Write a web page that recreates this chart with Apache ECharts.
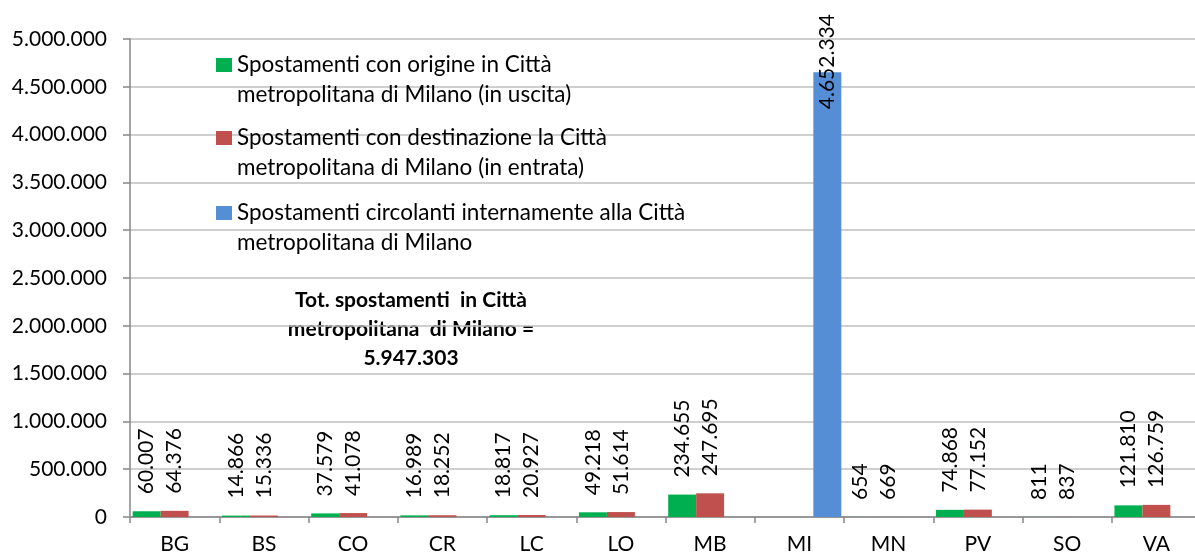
<!DOCTYPE html>
<html>
<head>
<meta charset="utf-8">
<script src="https://cdn.jsdelivr.net/npm/echarts@6/dist/echarts.min.js"></script>
<style>
  html, body { margin: 0; padding: 0; background: #ffffff; }
  #chart { width: 1195px; height: 555px; }
</style>
</head>
<body>
<div id="chart"></div>
<script>
// Province codes on the category axis
const categories = ['BG', 'BS', 'CO', 'CR', 'LC', 'LO', 'MB', 'MI', 'MN', 'PV', 'SO', 'VA'];

// Trips leaving the metropolitan city, by destination province
const uscita = [60007, 14866, 37579, 16989, 18817, 49218, 234655, null, 654, 74868, 811, 121810];
// Trips entering the metropolitan city, by origin province
const entrata = [64376, 15336, 41078, 18252, 20927, 51614, 247695, null, 669, 77152, 837, 126759];
// Trips circulating inside the metropolitan city
const interni = [null, null, null, null, null, null, null, 4652334, null, null, null, null];

// Value axis ticks
const yMin = 0;
const yMax = 5000000;
const yStep = 500000;

const seriesNames = [
  'Spostamenti con origine in Città metropolitana di Milano (in uscita)',
  'Spostamenti con destinazione la Città metropolitana di Milano (in entrata)',
  'Spostamenti circolanti internamente alla Città metropolitana di Milano'
];
// Legend text wrapped on two lines; the leading blank line keeps the
// first line level with the colour swatch
const legendLines = {
  [seriesNames[0]]: ' \nSpostamenti con origine in Città\nmetropolitana di Milano (in uscita)',
  [seriesNames[1]]: ' \nSpostamenti con destinazione la Città\nmetropolitana di Milano (in entrata)',
  [seriesNames[2]]: ' \nSpostamenti circolanti internamente alla Città\nmetropolitana di Milano'
};
const colors = ['#00B050', '#C0504D', '#558ED5'];

const FONT = 'Lato, "Open Sans", sans-serif';

// Italian-style thousands separator
const fmt = v => String(Math.round(v)).replace(/\B(?=(\d{3})+(?!\d))/g, '.');

const sum = arr => arr.reduce((a, b) => a + (b || 0), 0);
const totale = sum(uscita) + sum(entrata) + sum(interni);

const chart = echarts.init(document.getElementById('chart'), null, { renderer: 'canvas' });

function barLabel(distance) {
  return {
    show: true,
    position: 'top',
    rotate: 90,
    align: 'left',
    verticalAlign: 'middle',
    distance: distance,
    fontFamily: FONT,
    fontSize: 21,
    color: '#000',
    formatter: p => fmt(p.value)
  };
}

function legendFor(i, top) {
  return {
    data: [seriesNames[i]],
    left: 216,
    top: top,
    orient: 'vertical',
    padding: 0,
    icon: 'rect',
    itemWidth: 16,
    itemHeight: 14,
    selectedMode: false,
    formatter: name => legendLines[name],
    textStyle: {
      fontFamily: FONT,
      fontSize: 22.5,
      lineHeight: 30,
      color: '#000'
    }
  };
}

const option = {
  animation: false,
  backgroundColor: '#ffffff',
  textStyle: { fontFamily: FONT },
  grid: {
    left: 130,
    top: 39,
    bottom: 38,
    width: 1071,
    containLabel: false,
    outerBoundsMode: 'none'
  },
  legend: [legendFor(0, 20), legendFor(1, 93), legendFor(2, 168)],
  xAxis: {
    type: 'category',
    data: categories,
    axisLine: { show: true, lineStyle: { color: '#868686', width: 1.5 } },
    axisTick: { show: true, length: 6, lineStyle: { color: '#868686', width: 1.5 } },
    axisLabel: { fontFamily: FONT, fontSize: 21, color: '#000', margin: 17 }
  },
  yAxis: {
    type: 'value',
    min: yMin,
    max: yMax,
    interval: yStep,
    axisLine: { show: true, lineStyle: { color: '#868686', width: 1.5 } },
    axisTick: { show: true, length: 7, lineStyle: { color: '#868686', width: 1.5 } },
    splitLine: { show: true, lineStyle: { color: '#bfbfbf', width: 1.5 } },
    axisLabel: { fontFamily: FONT, fontSize: 21, color: '#000', margin: 23, formatter: v => fmt(v) }
  },
  series: [
    {
      name: seriesNames[0], type: 'bar', data: uscita,
      barGap: '0%', barCategoryGap: '6%',
      itemStyle: { color: colors[0] },
      label: barLabel(17)
    },
    {
      name: seriesNames[1], type: 'bar', data: entrata,
      barGap: '0%', barCategoryGap: '6%',
      itemStyle: { color: colors[1] },
      label: barLabel(17)
    },
    {
      name: seriesNames[2], type: 'bar', data: interni,
      barGap: '0%', barCategoryGap: '6%',
      itemStyle: { color: colors[2] },
      label: barLabel(-37)
    }
  ],
  graphic: [
    {
      type: 'text',
      silent: true,
      style: {
        x: 411,
        y: 329,
        text: 'Tot. spostamenti  in Città\nmetropolitana  di Milano =\n' + fmt(totale),
        align: 'center',
        verticalAlign: 'middle',
        fontFamily: FONT,
        fontWeight: 'bold',
        fontSize: 21,
        lineHeight: 29,
        fill: '#000'
      }
    }
  ]
};

chart.setOption(option);
</script>
</body>
</html>
